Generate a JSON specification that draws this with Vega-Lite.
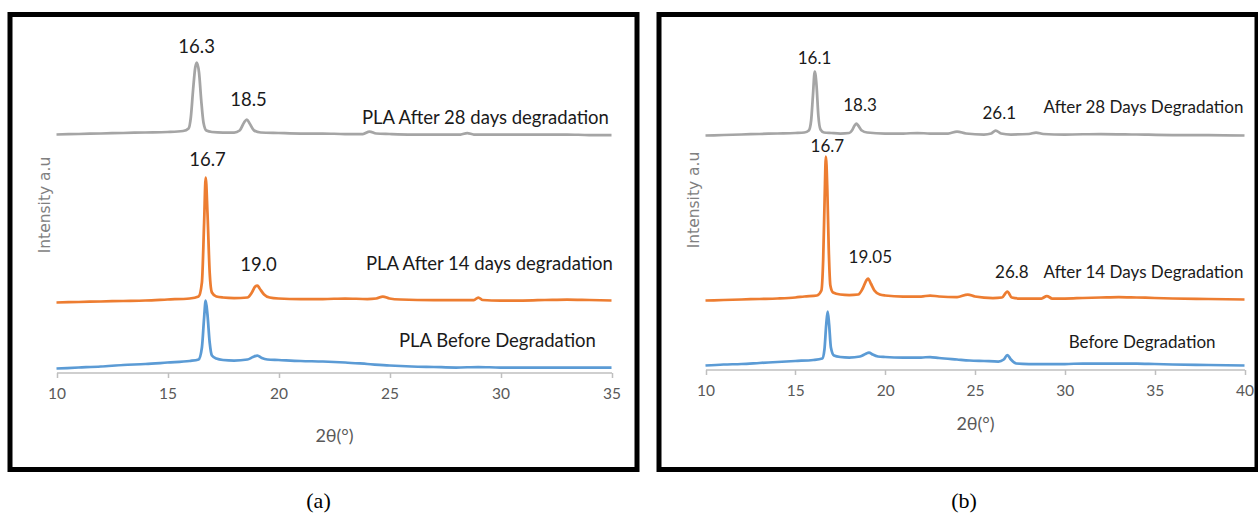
{
"$schema":"https://vega.github.io/schema/vega-lite/v6.json",
"padding":{"left":7,"top":11.5,"right":0,"bottom":0},
"spacing":16,
"background":"#ffffff",
"config":{"view":{"stroke":"#000000","strokeWidth":5},"text":{"font":"Lato","fontSize":17,"color":"#1a1a1a","baseline":"middle","align":"center"}},
"datasets":{
"a":[
{"s":"28","t":10,"i":238},{"s":"28","t":11,"i":238.5},{"s":"28","t":12,"i":239},{"s":"28","t":13,"i":239.5},{"s":"28","t":14,"i":240},{"s":"28","t":15,"i":240.5},{"s":"28","t":15.7,"i":241.5},{"s":"28","t":15.95,"i":244},{"s":"28","t":16.05,"i":255},{"s":"28","t":16.15,"i":282},{"s":"28","t":16.25,"i":305},{"s":"28","t":16.32,"i":310},{"s":"28","t":16.42,"i":300},{"s":"28","t":16.52,"i":272},{"s":"28","t":16.62,"i":250},{"s":"28","t":16.75,"i":242},{"s":"28","t":17,"i":240.5},{"s":"28","t":17.5,"i":240},{"s":"28","t":18,"i":240},{"s":"28","t":18.25,"i":242},{"s":"28","t":18.45,"i":250},{"s":"28","t":18.57,"i":253},{"s":"28","t":18.7,"i":249},{"s":"28","t":18.9,"i":242},{"s":"28","t":19.2,"i":240},{"s":"28","t":20,"i":239.5},{"s":"28","t":21,"i":239},{"s":"28","t":22,"i":239},{"s":"28","t":23,"i":238.5},{"s":"28","t":23.8,"i":238.5},{"s":"28","t":24.1,"i":241},{"s":"28","t":24.4,"i":239},{"s":"28","t":25,"i":238.5},{"s":"28","t":26,"i":238},{"s":"28","t":27,"i":238},{"s":"28","t":28.2,"i":238},{"s":"28","t":28.5,"i":239.5},{"s":"28","t":28.8,"i":238},{"s":"28","t":30,"i":238},{"s":"28","t":31,"i":238},{"s":"28","t":32,"i":238},{"s":"28","t":33,"i":238},{"s":"28","t":34,"i":237.5},{"s":"28","t":35,"i":237.5},
{"s":"14","t":10,"i":70},{"s":"14","t":11,"i":70.5},{"s":"14","t":12,"i":71},{"s":"14","t":13,"i":71.5},{"s":"14","t":14,"i":72},{"s":"14","t":15,"i":73},{"s":"14","t":16,"i":74},{"s":"14","t":16.4,"i":76},{"s":"14","t":16.55,"i":90},{"s":"14","t":16.65,"i":150},{"s":"14","t":16.72,"i":195},{"s":"14","t":16.8,"i":160},{"s":"14","t":16.9,"i":100},{"s":"14","t":17.0,"i":80},{"s":"14","t":17.2,"i":76},{"s":"14","t":17.5,"i":75},{"s":"14","t":18,"i":74.5},{"s":"14","t":18.6,"i":75},{"s":"14","t":18.8,"i":80},{"s":"14","t":18.95,"i":86},{"s":"14","t":19.05,"i":87},{"s":"14","t":19.15,"i":84},{"s":"14","t":19.35,"i":78},{"s":"14","t":19.6,"i":75},{"s":"14","t":20,"i":74},{"s":"14","t":21,"i":73.5},{"s":"14","t":22,"i":73.5},{"s":"14","t":23,"i":74},{"s":"14","t":24,"i":73.5},{"s":"14","t":24.4,"i":74},{"s":"14","t":24.7,"i":76},{"s":"14","t":25.0,"i":74},{"s":"14","t":25.5,"i":73},{"s":"14","t":27,"i":72.5},{"s":"14","t":28.8,"i":72.5},{"s":"14","t":29.0,"i":75},{"s":"14","t":29.2,"i":72.5},{"s":"14","t":30,"i":72},{"s":"14","t":31,"i":72},{"s":"14","t":32,"i":72.5},{"s":"14","t":33,"i":73},{"s":"14","t":34,"i":72.5},{"s":"14","t":35,"i":72},
{"s":"0","t":10,"i":4},{"s":"0","t":11,"i":5},{"s":"0","t":12,"i":6},{"s":"0","t":13,"i":7.5},{"s":"0","t":14,"i":8.5},{"s":"0","t":15,"i":10},{"s":"0","t":16,"i":11.5},{"s":"0","t":16.4,"i":13},{"s":"0","t":16.55,"i":25},{"s":"0","t":16.65,"i":55},{"s":"0","t":16.72,"i":72},{"s":"0","t":16.8,"i":58},{"s":"0","t":16.9,"i":30},{"s":"0","t":17.0,"i":17},{"s":"0","t":17.2,"i":14},{"s":"0","t":17.5,"i":12.5},{"s":"0","t":18,"i":12},{"s":"0","t":18.6,"i":13},{"s":"0","t":18.85,"i":15.5},{"s":"0","t":19.05,"i":17},{"s":"0","t":19.25,"i":14.5},{"s":"0","t":19.5,"i":13},{"s":"0","t":20,"i":12.5},{"s":"0","t":21,"i":11.5},{"s":"0","t":22,"i":11},{"s":"0","t":23,"i":10},{"s":"0","t":24,"i":8.5},{"s":"0","t":25,"i":7},{"s":"0","t":26,"i":6},{"s":"0","t":27,"i":5.5},{"s":"0","t":28,"i":5},{"s":"0","t":29,"i":5.5},{"s":"0","t":30,"i":5},{"s":"0","t":31,"i":5},{"s":"0","t":32,"i":5},{"s":"0","t":33,"i":5},{"s":"0","t":34,"i":5},{"s":"0","t":35,"i":5}
],
"b":[
{"s":"28","t":10,"i":234},{"s":"28","t":11,"i":234.5},{"s":"28","t":12,"i":235},{"s":"28","t":13,"i":235.5},{"s":"28","t":14,"i":236},{"s":"28","t":15,"i":236.5},{"s":"28","t":15.5,"i":237},{"s":"28","t":15.75,"i":239},{"s":"28","t":15.88,"i":249},{"s":"28","t":15.98,"i":274},{"s":"28","t":16.08,"i":298},{"s":"28","t":16.18,"i":284},{"s":"28","t":16.28,"i":254},{"s":"28","t":16.4,"i":240},{"s":"28","t":16.6,"i":237},{"s":"28","t":17,"i":236.5},{"s":"28","t":17.5,"i":236},{"s":"28","t":18,"i":236.5},{"s":"28","t":18.15,"i":239},{"s":"28","t":18.3,"i":244},{"s":"28","t":18.4,"i":246},{"s":"28","t":18.5,"i":244},{"s":"28","t":18.7,"i":239},{"s":"28","t":19,"i":237},{"s":"28","t":20,"i":236},{"s":"28","t":21,"i":236},{"s":"28","t":21.8,"i":236.5},{"s":"28","t":22.5,"i":236},{"s":"28","t":23.5,"i":236},{"s":"28","t":24,"i":238},{"s":"28","t":24.5,"i":236},{"s":"28","t":25.5,"i":235},{"s":"28","t":25.9,"i":236},{"s":"28","t":26.15,"i":239},{"s":"28","t":26.45,"i":236},{"s":"28","t":27,"i":235},{"s":"28","t":28,"i":235.5},{"s":"28","t":28.4,"i":237},{"s":"28","t":28.8,"i":235.5},{"s":"28","t":30,"i":235},{"s":"28","t":32,"i":235.5},{"s":"28","t":34,"i":235},{"s":"28","t":36,"i":234.5},{"s":"28","t":38,"i":234.5},{"s":"28","t":40,"i":234},
{"s":"14","t":10,"i":69},{"s":"14","t":11,"i":69.5},{"s":"14","t":12,"i":70},{"s":"14","t":13,"i":70.5},{"s":"14","t":14,"i":71},{"s":"14","t":15,"i":72},{"s":"14","t":15.5,"i":73},{"s":"14","t":16.2,"i":74},{"s":"14","t":16.45,"i":79},{"s":"14","t":16.55,"i":110},{"s":"14","t":16.63,"i":170},{"s":"14","t":16.7,"i":213},{"s":"14","t":16.78,"i":180},{"s":"14","t":16.86,"i":120},{"s":"14","t":16.95,"i":84},{"s":"14","t":17.1,"i":77},{"s":"14","t":17.5,"i":75},{"s":"14","t":18,"i":74.5},{"s":"14","t":18.5,"i":75},{"s":"14","t":18.75,"i":81},{"s":"14","t":18.95,"i":89},{"s":"14","t":19.05,"i":91},{"s":"14","t":19.2,"i":86},{"s":"14","t":19.4,"i":79},{"s":"14","t":19.7,"i":75},{"s":"14","t":20,"i":74},{"s":"14","t":21,"i":73},{"s":"14","t":22,"i":73},{"s":"14","t":22.5,"i":74},{"s":"14","t":23,"i":73},{"s":"14","t":24,"i":72.5},{"s":"14","t":24.6,"i":75},{"s":"14","t":25,"i":73},{"s":"14","t":26,"i":71.5},{"s":"14","t":26.5,"i":72},{"s":"14","t":26.8,"i":78},{"s":"14","t":27.05,"i":72},{"s":"14","t":27.5,"i":71},{"s":"14","t":28.7,"i":71},{"s":"14","t":29,"i":73.5},{"s":"14","t":29.3,"i":71},{"s":"14","t":30,"i":71},{"s":"14","t":31,"i":71.5},{"s":"14","t":32,"i":72},{"s":"14","t":33,"i":72.5},{"s":"14","t":34,"i":72},{"s":"14","t":35,"i":71.5},{"s":"14","t":36,"i":71},{"s":"14","t":38,"i":70.5},{"s":"14","t":40,"i":70},
{"s":"0","t":10,"i":4},{"s":"0","t":11,"i":5},{"s":"0","t":12,"i":5.5},{"s":"0","t":13,"i":6.5},{"s":"0","t":14,"i":7.5},{"s":"0","t":15,"i":8.5},{"s":"0","t":16,"i":9.5},{"s":"0","t":16.5,"i":11},{"s":"0","t":16.62,"i":20},{"s":"0","t":16.72,"i":45},{"s":"0","t":16.8,"i":58},{"s":"0","t":16.88,"i":45},{"s":"0","t":16.98,"i":22},{"s":"0","t":17.15,"i":14},{"s":"0","t":17.5,"i":12.5},{"s":"0","t":18,"i":12},{"s":"0","t":18.6,"i":13},{"s":"0","t":18.9,"i":15.5},{"s":"0","t":19.1,"i":17},{"s":"0","t":19.3,"i":15},{"s":"0","t":19.6,"i":13},{"s":"0","t":20,"i":12.5},{"s":"0","t":21,"i":12},{"s":"0","t":22,"i":12},{"s":"0","t":22.5,"i":12.5},{"s":"0","t":23,"i":11.5},{"s":"0","t":24,"i":10},{"s":"0","t":24.7,"i":9},{"s":"0","t":25.5,"i":8.5},{"s":"0","t":26.3,"i":8},{"s":"0","t":26.6,"i":10},{"s":"0","t":26.8,"i":14.5},{"s":"0","t":27.0,"i":10},{"s":"0","t":27.3,"i":6},{"s":"0","t":28,"i":5.5},{"s":"0","t":29,"i":5.5},{"s":"0","t":30,"i":5.5},{"s":"0","t":31,"i":6},{"s":"0","t":32,"i":6},{"s":"0","t":33,"i":6},{"s":"0","t":34,"i":6},{"s":"0","t":35,"i":5.5},{"s":"0","t":36,"i":5},{"s":"0","t":38,"i":4.5},{"s":"0","t":40,"i":4}
],
"labA":[
{"label":"16.3","t":16.31,"i":326},{"label":"18.5","t":18.65,"i":273},{"label":"16.7","t":16.8,"i":213},{"label":"19.0","t":19.1,"i":108},
{"label":"PLA After 28 days degradation","t":29.32,"i":255},{"label":"PLA After 14 days degradation","t":29.5,"i":109},{"label":"PLA Before Degradation","t":29.86,"i":32}
],
"labB":[
{"label":"16.1","t":16.07,"i":311},{"label":"18.3","t":18.6,"i":264},{"label":"26.1","t":26.35,"i":256},{"label":"16.7","t":16.78,"i":223},{"label":"19.05","t":19.17,"i":112},{"label":"26.8","t":27.05,"i":97},
{"label":"After 28 Days Degradation","t":34.38,"i":262},{"label":"After 14 Days Degradation","t":34.38,"i":97},{"label":"Before Degradation","t":34.3,"i":27}
]
},
"hconcat":[
{
"width":627,"height":455,
"title":{"text":"(a)","orient":"bottom","font":"Liberation Serif","fontSize":22,"fontWeight":"normal","color":"#000000","offset":21,"dx":-5},
"layer":[
{"data":{"name":"a"},"mark":{"type":"line","strokeWidth":2.75,"interpolate":"monotone"},
"encoding":{
"x":{"field":"t","type":"quantitative","scale":{"domain":[10,35],"range":[46.5,601.5],"nice":false,"zero":false},
"axis":{"values":[10,15,20,25,30,35],"offset":-97,"domain":true,"domainColor":"#BFBFBF","domainWidth":1.5,"ticks":true,"tickColor":"#BFBFBF","tickWidth":1.5,"tickSize":5,"grid":false,"labelFlush":false,"labelColor":"#595959","labelFont":"Lato","labelFontSize":15.5,"labelPadding":9,"title":"2θ(°)","titleColor":"#595959","titleFont":"Lato","titleFontSize":18,"titleFontWeight":"normal","titlePadding":25}},
"y":{"field":"i","type":"quantitative","scale":{"domain":[-97,358],"nice":false,"zero":false},
"axis":{"orient":"left","offset":-42.5,"domain":false,"ticks":false,"labels":false,"grid":false,"title":"Intensity a.u","titleColor":"#808080","titleFont":"DejaVu Sans","titleFontSize":15.5,"titleFontWeight":"normal","titlePadding":0,"titleY":190}},
"color":{"field":"s","type":"nominal","scale":{"domain":["0","14","28"],"range":["#5B9BD5","#ED7D31","#A5A5A5"]},"legend":null}
}},
{"data":{"name":"labA"},"mark":{"type":"text","fontSize":18.5},
"encoding":{"x":{"field":"t","type":"quantitative"},"y":{"field":"i","type":"quantitative"},"text":{"field":"label"}}}
]
},
{
"width":598,"height":455,
"title":{"text":"(b)","orient":"bottom","font":"Liberation Serif","fontSize":22,"fontWeight":"normal","color":"#000000","offset":21,"dx":6},
"layer":[
{"data":{"name":"b"},"mark":{"type":"line","strokeWidth":2.75,"interpolate":"monotone"},
"encoding":{
"x":{"field":"t","type":"quantitative","scale":{"domain":[10,40],"range":[46.5,585.5],"nice":false,"zero":false},
"axis":{"values":[10,15,20,25,30,35,40],"offset":-100,"domain":true,"domainColor":"#BFBFBF","domainWidth":1.5,"ticks":true,"tickColor":"#BFBFBF","tickWidth":1.5,"tickSize":5,"grid":false,"labelFlush":false,"labelColor":"#595959","labelFont":"Lato","labelFontSize":15.5,"labelPadding":9,"title":"2θ(°)","titleColor":"#595959","titleFont":"Lato","titleFontSize":18,"titleFontWeight":"normal","titlePadding":16}},
"y":{"field":"i","type":"quantitative","scale":{"domain":[-100,355],"nice":false,"zero":false},
"axis":{"orient":"left","offset":-42,"domain":false,"ticks":false,"labels":false,"grid":false,"title":"Intensity a.u","titleColor":"#808080","titleFont":"DejaVu Sans","titleFontSize":15.5,"titleFontWeight":"normal","titlePadding":0,"titleY":185}},
"color":{"field":"s","type":"nominal","scale":{"domain":["0","14","28"],"range":["#5B9BD5","#ED7D31","#A5A5A5"]},"legend":null}
}},
{"data":{"name":"labB"},"mark":{"type":"text","fontSize":17},
"encoding":{"x":{"field":"t","type":"quantitative"},"y":{"field":"i","type":"quantitative"},"text":{"field":"label"}}}
]
}
]
}
